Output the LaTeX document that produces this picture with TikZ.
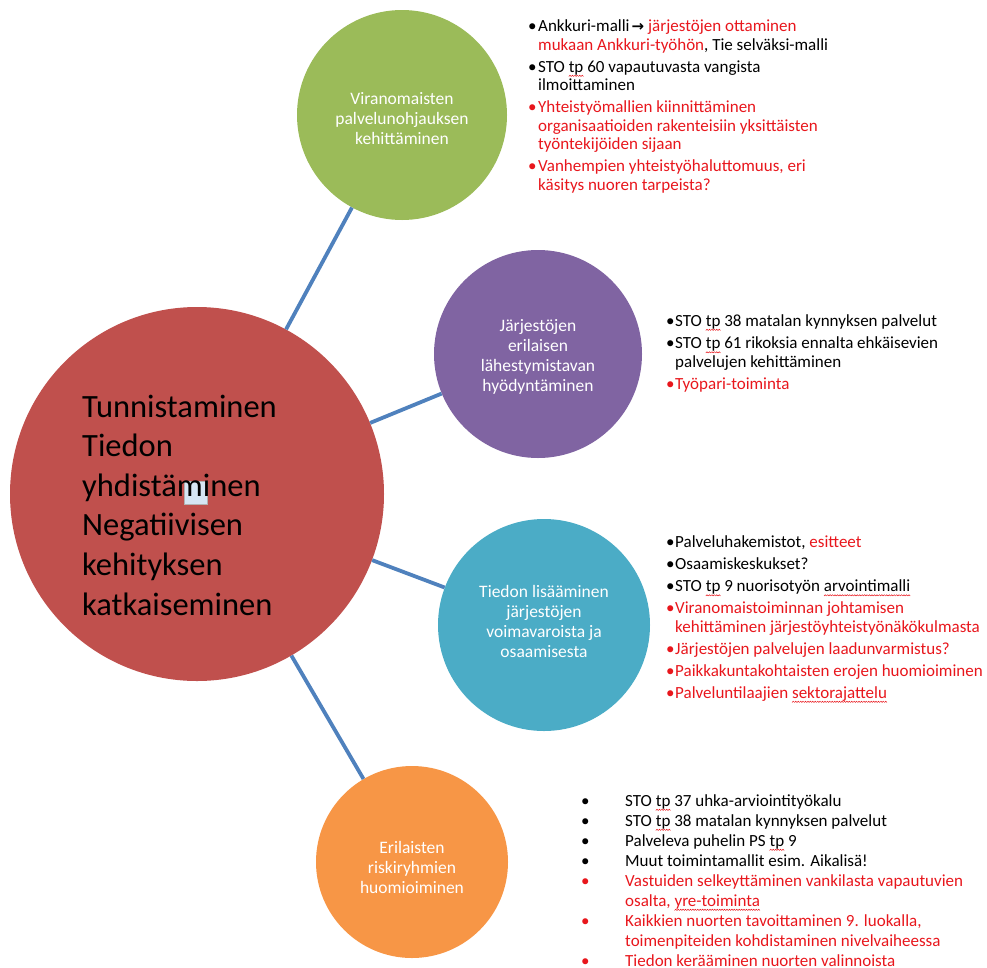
\documentclass[tikz,border=0pt]{standalone}
\usepackage{fontspec}
\setmainfont{Carlito}
\newfontfamily\symfont{DejaVu Sans}
\definecolor{cgreen}{RGB}{155,187,89}
\definecolor{cpurple}{RGB}{128,100,162}
\definecolor{cteal}{RGB}{75,172,198}
\definecolor{corange}{RGB}{247,150,70}
\definecolor{cred}{RGB}{192,80,77}
\definecolor{lineblue}{RGB}{79,129,189}
\definecolor{tred}{RGB}{232,22,28}
\definecolor{iconfill}{RGB}{214,230,244}
\newsavebox\wavebox
\newcommand\sq[1]{\setbox0=\hbox{#1}\rlap{\raisebox{-4.5pt}{\hbox to \wd0{\xleaders\copy\wavebox\hfill}}}\box0\relax}
\newcommand\bua{\makebox[10pt][l]{\textbullet}}
\newcommand\ina{\hspace*{10pt}}
\newcommand\bub{\makebox[9pt][l]{\textbullet}}
\newcommand\inb{\hspace*{9pt}}
\newcommand\buc{\makebox[44pt][l]{\textbullet}}
\newcommand\inc{\hspace*{44pt}}
\begin{document}
\sbox\wavebox{\begin{pgfpicture}%
\pgfpathrectangle{\pgfpoint{0pt}{0pt}}{\pgfpoint{2.4pt}{1.4pt}}\pgfusepath{use as bounding box}%
\pgfpathmoveto{\pgfpoint{0pt}{0.1pt}}\pgfpathlineto{\pgfpoint{1.2pt}{1.3pt}}\pgfpathlineto{\pgfpoint{2.4pt}{0.1pt}}%
\pgfsetlinewidth{0.5pt}\pgfsetstrokecolor{tred}\pgfusepath{stroke}%
\end{pgfpicture}}%
\begin{tikzpicture}[x=1pt,y=-1pt,
  bubble/.style={circle, draw=none, minimum size=#1, inner sep=0pt},
  lab/.style={text=white, font=\fontsize{17.5}{20}\selectfont, align=center},
  conn/.style={draw=lineblue, line width=3.8pt},
  blk/.style={font=\fontsize{17}{18.5}\selectfont, align=left, anchor=base west, inner sep=0pt}
]
\useasboundingbox (0,0) rectangle (987,967);

% circles
\node[bubble=374pt, fill=cred] (core) at (197,494) {};
\node[bubble=210pt, fill=cgreen] (green) at (402,115) {};
\node[bubble=208pt, fill=cpurple] (purple) at (538,354) {};
\node[bubble=212pt, fill=cteal] (teal) at (544,625) {};
\node[bubble=192pt, fill=corange] (orange) at (412,862) {};

% circle labels
\node[lab] (greenlab) at ([yshift=-4pt]green.center) {Viranomaisten\\palvelunohjauksen\\kehittäminen};
\node[lab] (purplelab) at ([yshift=-3pt]purple.center) {Järjestöjen\\erilaisen\\lähestymistavan\\hyödyntäminen};
\node[lab] (teallab) at ([yshift=3.5pt]teal.center) {Tiedon lisääminen\\järjestöjen\\voimavaroista ja\\osaamisesta};
\node[lab] (orangelab) at ([yshift=-5pt]orange.center) {Erilaisten\\riskiryhmien\\huomioiminen};

% connectors
\draw[conn] (core) -- (green);
\draw[conn] (core) -- (purple);
\draw[conn] (core) -- (teal);
\draw[conn] (core) -- (orange);

% core text (anchor = baseline of the last line)
\draw[gray!60, fill=iconfill, line width=0.6pt] (184,481) rectangle (207,504);
\node[anchor=base west, inner sep=0pt, align=left, font=\fontsize{32.5}{39.6}\selectfont] (coretext) at (82,615)
{Tunnistaminen\\Tiedon\\yhdistäminen\\Negatiivisen\\kehityksen\\katkaiseminen};

% text block 1
\node[blk] (b1) at (528,190) {%
\bua Ankkuri-malli\hspace{2pt}{\symfont\bfseries\fontsize{15}{15}\selectfont →}\hspace{4pt}\textcolor{tred}{järjestöjen ottaminen}\\
\ina\textcolor{tred}{mukaan Ankkuri-työhön}, Tie selväksi-malli\\[3.5pt]
\bua STO \sq{tp} 60 vapautuvasta vangista\\
\ina ilmoittaminen\\[3.5pt]
\textcolor{tred}{\bua Yhteistyömallien kiinnittäminen}\\
\textcolor{tred}{\ina organisaatioiden rakenteisiin yksittäisten}\\
\textcolor{tred}{\ina työntekijöiden sijaan}\\[3.5pt]
\textcolor{tred}{\bua Vanhempien yhteistyöhaluttomuus, eri}\\
\textcolor{tred}{\ina käsitys nuoren tarpeista?}};

% text block 2
\node[blk] (b2) at (666,389.5) {%
\bub STO \sq{tp} 38 matalan kynnyksen palvelut\\[4pt]
\bub STO \sq{tp} 61 rikoksia ennalta ehkäisevien\\
\inb palvelujen kehittäminen\\[4pt]
\textcolor{tred}{\bub Työpari-toiminta}};

% text block 3
\node[blk] (b3) at (666,698) {%
\bub Palveluhakemistot, \textcolor{tred}{esitteet}\\[3.5pt]
\bub Osaamiskeskukset?\\[3.5pt]
\bub STO \sq{tp} 9 nuorisotyön \sq{arvointimalli}\\[3.5pt]
\textcolor{tred}{\bub Viranomaistoiminnan johtamisen}\\
\textcolor{tred}{\inb kehittäminen järjestöyhteistyönäkökulmasta}\\[3.5pt]
\textcolor{tred}{\bub Järjestöjen palvelujen laadunvarmistus?}\\[3.5pt]
\textcolor{tred}{\bub Paikkakuntakohtaisten erojen huomioiminen}\\[3.5pt]
\textcolor{tred}{\bub Palveluntilaajien \sq{sektorajattelu}}};

% text block 4
\node[blk, font=\fontsize{17}{20}\selectfont] (b4) at (581,966) {%
\buc STO \sq{tp} 37 uhka-arviointityökalu\\
\buc STO \sq{tp} 38 matalan kynnyksen palvelut\\
\buc Palveleva puhelin PS \sq{tp} 9\\
\buc Muut toimintamallit esim. Aikalisä!\\
\textcolor{tred}{\buc Vastuiden selkeyttäminen vankilasta vapautuvien}\\
\textcolor{tred}{\inc osalta, \sq{yre-toiminta}}\\
\textcolor{tred}{\buc Kaikkien nuorten tavoittaminen 9. luokalla,}\\
\textcolor{tred}{\inc toimenpiteiden kohdistaminen nivelvaiheessa}\\
\textcolor{tred}{\buc Tiedon kerääminen nuorten valinnoista}};
\end{tikzpicture}
\end{document}
